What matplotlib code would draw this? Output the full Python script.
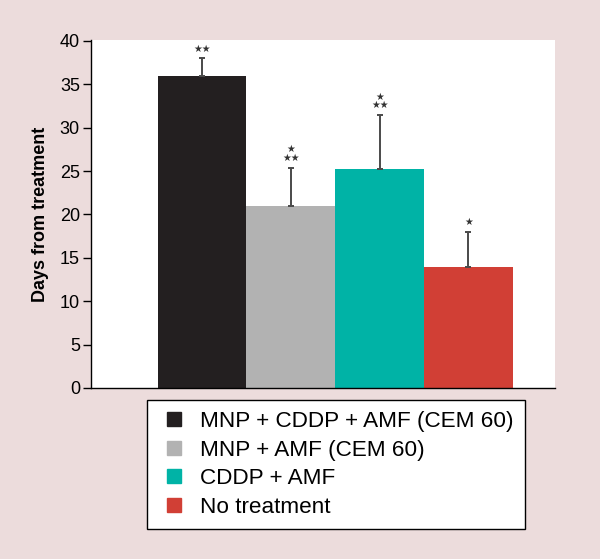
import matplotlib
matplotlib.use("Agg")
import matplotlib.pyplot as plt
from matplotlib.lines import Line2D

plt.rcParams['font.family'] = ['Liberation Sans', 'DejaVu Sans']

categories = ["MNP + CDDP + AMF (CEM 60)", "MNP + AMF (CEM 60)", "CDDP + AMF", "No treatment"]
values = [36.0, 21.0, 25.2, 14.0]
errors = [2.0, 4.4, 6.3, 4.0]
stars = ["★★", "★\n★★", "★\n★★", "★"]
colors = ["#231f20", "#b2b2b2", "#00b3a6", "#d13f35"]
yticks = [0, 5, 10, 15, 20, 25, 30, 35, 40]

fig = plt.figure(figsize=(6.0, 5.59), dpi=100)
fig.patch.set_facecolor("#ecdcdc")
ax = fig.add_axes([91/600, 1 - 388/559, (555-91)/600, (388-40)/559])
ax.set_facecolor("white")

x = [0, 1, 2, 3]
ax.bar(x, values, width=1.0, color=colors, zorder=2)
ax.errorbar(x, values, yerr=[[0]*4, errors], fmt="none", ecolor="#4a4a4a",
            elinewidth=1.4, capsize=2.5, capthick=1.4, zorder=3)
for xi, v, e, s in zip(x, values, errors, stars):
    ax.text(xi, v + e + 0.5, s, ha="center", va="bottom", fontsize=7,
            family=["DejaVu Sans"], linespacing=0.85, color="#333333")

ax.set_xlim(-1.25, 3.975)
ax.set_ylim(0, 40.1)
ax.set_yticks(yticks)
ax.tick_params(axis="y", labelsize=13, length=6, width=1, direction="out", pad=2)
ax.tick_params(axis="x", bottom=False, labelbottom=False)
for sp in ["top", "right"]:
    ax.spines[sp].set_visible(False)
ax.spines["left"].set_linewidth(1)
ax.spines["bottom"].set_linewidth(1)
ax.set_ylabel("Days from treatment", fontsize=13, fontweight="bold", labelpad=8)

handles = [Line2D([0], [0], marker="s", linestyle="none", markersize=9.5,
                  markerfacecolor=c, markeredgecolor=c) for c in colors]
leg = fig.legend(handles, categories, loc="upper left",
                 bbox_to_anchor=(147/600, 1 - 400/559), fontsize=16.2,
                 frameon=True, fancybox=False, edgecolor="black", framealpha=1,
                 handletextpad=0.47, labelspacing=0.33, borderpad=0.5,
                 handlelength=1.4, borderaxespad=0)
leg.get_frame().set_linewidth(1.0)
leg.get_frame().set_facecolor("white")

fig.savefig("out.png", dpi=100, facecolor=fig.get_facecolor())
